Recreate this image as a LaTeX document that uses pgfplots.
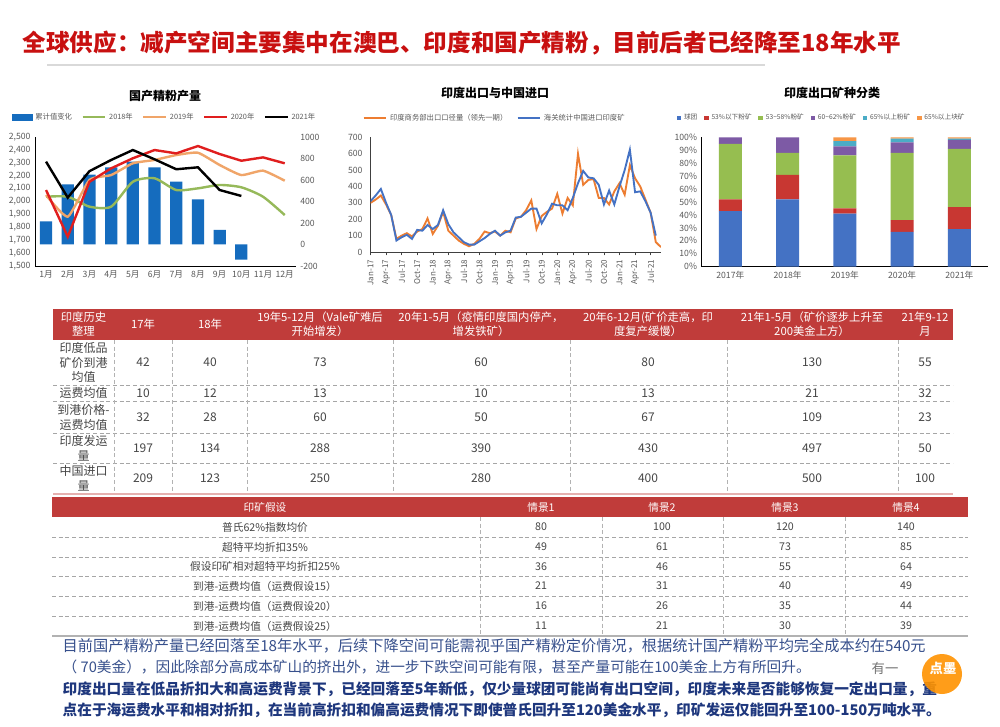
\documentclass[border=0pt]{standalone}
\usepackage{fontspec}
\setmainfont{Noto Sans CJK SC}
\usepackage{pgfplots}
\pgfplotsset{compat=1.18}
\definecolor{titlered}{RGB}{200,16,16}
\definecolor{tblred}{RGB}{192,60,58}
\definecolor{c1blue}{RGB}{21,108,190}
\definecolor{c1green}{RGB}{150,185,90}
\definecolor{c1orange}{RGB}{240,165,105}
\definecolor{c1red}{RGB}{224,30,30}
\definecolor{c2orange}{RGB}{237,125,49}
\definecolor{c2blue}{RGB}{68,114,196}
\definecolor{c3a}{RGB}{68,114,196}
\definecolor{c3b}{RGB}{200,55,50}
\definecolor{c3c}{RGB}{150,190,80}
\definecolor{c3d}{RGB}{125,90,165}
\definecolor{c3e}{RGB}{75,172,198}
\definecolor{c3f}{RGB}{247,150,70}
\definecolor{txtgray}{RGB}{89,89,89}
\definecolor{tbltxt}{RGB}{70,70,70}
\definecolor{noteblue}{RGB}{55,80,140}
\definecolor{noteblue2}{RGB}{30,55,125}
\pgfplotsset{
  common/.style={
    scale only axis, anchor=south west,
    /pgf/number format/assume math mode=true,
    tick label style={font=\fontsize{6.5}{7}\selectfont, text=txtgray},
    major tick length=0pt,
    legend style={draw=none, fill=none, font=\fontsize{5.5}{6}\selectfont, text=txtgray,
      /tikz/every even column/.append style={column sep=5pt}},
  }
}
\begin{document}
\begin{tikzpicture}
\useasboundingbox (0,0) rectangle (750pt,-545.25pt);
\fill[white] (0,0) rectangle (750pt,-545.25pt);

% ---------------- Chart 1: bars (right axis)
\begin{axis}[common, at={(26.4pt,-199.5pt)}, width=195.3pt, height=96.75pt,
  xmin=0.5, xmax=12.5, ymin=-200, ymax=1000,
  axis y line*=right, axis x line=none, y axis line style={draw=none},
  ytick={-200,0,200,400,600,800,1000},
  /pgf/number format/1000 sep={},
  ybar, bar width=9.2pt]
\addplot[fill=c1blue, draw=none] coordinates {(1,215)(2,560)(3,650)(4,718)(5,770)(6,718)(7,584)(8,420)(9,135)(10,-140)};
\end{axis}
% ---------------- Chart 1: lines (left axis)
\begin{axis}[common, at={(26.4pt,-199.5pt)}, width=195.3pt, height=96.75pt,
  xmin=0.5, xmax=12.5, ymin=1500, ymax=2500,
  axis x line*=bottom, axis y line*=left,
  axis line style={black, line width=0.6pt},
  ytick={1500,1600,...,2500},
  /pgf/number format/1000 sep={,},
  xtick={1,...,12}, xticklabels={1月,2月,3月,4月,5月,6月,7月,8月,9月,10月,11月,12月},
  legend columns=5,
  legend style={at={(0.4985,1.155)}, anchor=center}]
\addlegendimage{legend image code/.code={\fill[c1blue] (0pt,-2.2pt) rectangle (15pt,2.2pt);}}
\addlegendentry{累计值变化}
\addplot[c1green, line width=1.8pt, smooth, tension=0.4] coordinates {(1,2037)(2,2037)(3,1960)(4,1960)(5,2153)(6,2180)(7,2089)(8,2102)(9,2128)(10,2110)(11,2037)(12,1895)};
\addlegendentry{2018年}
\addplot[c1orange, line width=1.8pt, smooth, tension=0.3] coordinates {(1,2050)(2,1882)(3,2167)(4,2205)(5,2296)(6,2322)(7,2360)(8,2378)(9,2283)(10,2205)(11,2239)(12,2161)};
\addlegendentry{2019年}
\addplot[c1red, line width=1.8pt] coordinates {(1,2089)(2,1727)(3,2153)(4,2257)(5,2335)(6,2399)(7,2373)(8,2430)(9,2368)(10,2316)(11,2342)(12,2296)};
\addlegendentry{2020年}
\addplot[black, line width=1.8pt] coordinates {(1,2309)(2,2030)(3,2235)(4,2322)(5,2399)(6,2327)(7,2250)(8,2265)(9,2089)(10,2043)};
\addlegendentry{2021年}
\end{axis}

% ---------------- Chart 2
\begin{axis}[common, at={(277.875pt,-189pt)}, width=217.875pt, height=86pt,
  xmin=0, xmax=56, ymin=0, ymax=700,
  axis x line*=bottom, axis y line*=left,
  axis line style={black!75, line width=0.6pt},
  ytick={0,100,...,700},
  xtick={0,3,...,54},
  xticklabels={Jan-17,Apr-17,Jul-17,Oct-17,Jan-18,Apr-18,Jul-18,Oct-18,Jan-19,Apr-19,Jul-19,Oct-19,Jan-20,Apr-20,Jul-20,Oct-20,Jan-21,Apr-21,Jul-21},
  x tick label style={rotate=90, anchor=east, font=\fontsize{6}{6}\selectfont},
  major tick length=2.5pt, tick align=outside,
  xtick style={draw=black!75}, ytick style={draw=none},
  legend columns=2,
  legend style={at={(0.4286,1.168)}, anchor=center}]
\addplot[c2orange, line width=1.4pt] coordinates {(0,300)(1,320)(2,345)(3,290)(4,225)(5,80)(6,100)(7,115)(8,95)(9,125)(10,140)(11,205)(12,110)(13,160)(14,245)(15,130)(16,100)(17,70)(18,50)(19,35)(20,50)(21,80)(22,125)(23,115)(24,125)(25,100)(26,130)(27,120)(28,205)(29,215)(30,255)(31,315)(32,140)(33,220)(34,245)(35,265)(36,355)(37,235)(38,330)(39,285)(40,600)(41,410)(42,440)(43,445)(44,330)(45,330)(46,290)(47,370)(48,420)(49,350)(50,530)(51,450)(52,400)(53,320)(54,240)(55,60)(56,30)};
\addlegendentry{印度商务部出口口径量（领先一期）}
\addplot[c2blue, line width=1.4pt] coordinates {(0,310)(1,345)(2,385)(3,300)(4,225)(5,70)(6,90)(7,105)(8,80)(9,135)(10,130)(11,165)(12,140)(13,165)(14,255)(15,170)(16,120)(17,90)(18,60)(19,45)(20,45)(21,65)(22,85)(23,110)(24,130)(25,100)(26,120)(27,130)(28,210)(29,215)(30,240)(31,265)(32,265)(33,175)(34,230)(35,295)(36,285)(37,285)(38,255)(39,330)(40,420)(41,495)(42,455)(43,450)(44,410)(45,290)(46,375)(47,290)(48,400)(49,500)(50,625)(51,365)(52,370)(53,310)(54,240)(55,100)};
\addlegendentry{海关统计中国进口印度矿}
\end{axis}

% ---------------- Chart 3
\begin{axis}[common, at={(526.275pt,-200.025pt)}, width=214.7pt, height=97.05pt,
  ybar stacked, bar width=17.25pt,
  xmin=-0.5, xmax=4.5, ymin=0, ymax=100,
  axis x line*=bottom, axis y line*=left,
  axis line style={black, line width=0.6pt},
  ytick={0,10,...,100}, yticklabel={\pgfmathprintnumber{\tick}\%},
  xtick={0,...,4}, xticklabels={2017年,2018年,2019年,2020年,2021年},
  legend columns=6,
  legend style={at={(0.42,1.149)}, anchor=center, font=\fontsize{5}{6}\selectfont,
     /tikz/every even column/.append style={column sep=3pt}},
  legend image code/.code={\draw[#1, draw=none] (0pt,-1.8pt) rectangle (3.6pt,1.8pt);}]
\addplot[fill=c3a, draw=none] coordinates {(0,43)(1,52)(2,41)(3,27)(4,29)};
\addlegendentry{球团}
\addplot[fill=c3b, draw=none] coordinates {(0,9)(1,19)(2,4)(3,9)(4,17)};
\addlegendentry{53\%以下粉矿}
\addplot[fill=c3c, draw=none] coordinates {(0,43)(1,17)(2,41)(3,52)(4,45)};
\addlegendentry{53\textasciitilde58\%粉矿}
\addplot[fill=c3d, draw=none] coordinates {(0,5)(1,12)(2,7)(3,8)(4,7)};
\addlegendentry{60\textasciitilde62\%粉矿}
\addplot[fill=c3e, draw=none] coordinates {(0,0)(1,0)(2,4)(3,3)(4,1)};
\addlegendentry{65\%以上粉矿}
\addplot[fill=c3f, draw=none] coordinates {(0,0)(1,0)(2,3)(3,1)(4,1)};
\addlegendentry{65\%以上块矿}
\end{axis}

% ---------------- Text, tables (pixel coordinates)
\begin{scope}[x=0.75pt, y=-0.75pt]
\node[anchor=west, text=titlered, font=\fontsize{17.7}{20}\selectfont\bfseries] at (18,43)
  {全球供应：减产空间主要集中在澳巴、印度和国产精粉，目前后者已经降至18年水平};
\draw[black!15, line width=1.2pt] (47,65) -- (765,65);

\node[font=\fontsize{9}{10}\selectfont\bfseries] at (165,96) {国产精粉产量};
\node[font=\fontsize{9}{10}\selectfont\bfseries] at (495,93) {印度出口与中国进口};
\node[font=\fontsize{9}{10}\selectfont\bfseries] at (832,93) {印度出口矿种分类};

% Table 1
\fill[tblred] (53,309) rectangle (953,340);
\begin{scope}[every node/.style={text=white, align=center, font=\fontsize{8.5}{10.5}\selectfont}]
\node at (83.5,324.5) {印度历史\\整理};
\node at (143,324.5) {17年};
\node at (210,324.5) {18年};
\node at (320,324.5) {19年5-12月（Vale矿难后\\开始增发）};
\node at (481,324.5) {20年1-5月（疫情印度国内停产，\\增发铁矿）};
\node at (648,324.5) {20年6-12月(矿价走高，印\\度复产缓慢）};
\node at (812,324.5) {21年1-5月（矿价逐步上升至\\200美金上方）};
\node at (925,324.5) {21年9-12\\月};
\end{scope}
\foreach \yy in {385,401.7,433.3,463.3}
  \draw[black!35, densely dashed, line width=0.5pt] (53,\yy) -- (953,\yy);
\foreach \xx in {114,172,247,393,570,727,898}
  \draw[black!30, densely dashed, line width=0.5pt] (\xx,340) -- (\xx,493);
\draw[tblred!40, line width=1.5pt] (53,494) -- (953,494);
\begin{scope}[every node/.style={text=tbltxt, align=center, font=\fontsize{9}{11}\selectfont}]
\node at (83.5,362.5) {印度低品\\矿价到港\\均值};
\node at (83.5,393.4) {运费均值};
\node at (83.5,417.5) {到港价格-\\运费均值};
\node at (83.5,448.3) {印度发运\\量};
\node at (83.5,478.3) {中国进口\\量};
\foreach \yy/\a/\b/\c/\d/\e/\f/\g in {362.5/42/40/73/60/80/130/55, 393.4/10/12/13/10/13/21/32, 417.5/32/28/60/50/67/109/23, 448.3/197/134/288/390/430/497/50, 478.3/209/123/250/280/400/500/100}{
  \node at (143,\yy) {\a};
  \node at (210,\yy) {\b};
  \node at (320,\yy) {\c};
  \node at (481,\yy) {\d};
  \node at (648,\yy) {\e};
  \node at (812,\yy) {\f};
  \node at (925,\yy) {\g};
}
\end{scope}

% Table 2
\fill[tblred] (52,497) rectangle (968,517);
\begin{scope}[every node/.style={text=white, font=\fontsize{8}{9}\selectfont}]
\node at (265,507) {印矿假设};
\node at (541,507) {情景1};
\node at (662,507) {情景2};
\node at (785,507) {情景3};
\node at (906,507) {情景4};
\end{scope}
\foreach \yy in {537,557,576,596,616}
  \draw[black!35, densely dashed, line width=0.5pt] (52,\yy) -- (968,\yy);
\foreach \xx in {480,602,723,845}
  \draw[black!30, densely dashed, line width=0.5pt] (\xx,517) -- (\xx,636);
\draw[black!30, line width=0.8pt] (52,636) -- (968,636);
\begin{scope}[every node/.style={text=tbltxt, font=\fontsize{8}{9}\selectfont}]
\foreach \yy/\lab/\a/\b/\c/\d in {527/普氏62\%指数均价/80/100/120/140, 547/超特平均折扣35\%/49/61/73/85, 566.5/假设印矿相对超特平均折扣25\%/36/46/55/64, 586/到港-运费均值（运费假设15）/21/31/40/49, 606/到港-运费均值（运费假设20）/16/26/35/44, 626/到港-运费均值（运费假设25）/11/21/30/39}{
  \node at (265,\yy) {\lab};
  \node at (541,\yy) {\a};
  \node at (662,\yy) {\b};
  \node at (785,\yy) {\c};
  \node at (906,\yy) {\d};
}
\end{scope}

% Notes
\node[anchor=west, text=noteblue, font=\fontsize{11.4}{12}\selectfont] at (58,646)
  {目前国产精粉产量已经回落至18年水平，后续下降空间可能需视乎国产精粉定价情况，根据统计国产精粉平均完全成本约在540元};
\node[anchor=west, text=noteblue, font=\fontsize{11}{12}\selectfont] at (58,667)
  {（ 70美金），因此除部分高成本矿山的挤出外，进一步下跌空间可能有限，甚至产量可能在100美金上方有所回升。};
\node[anchor=west, text=noteblue2, font=\fontsize{11}{12}\selectfont\bfseries] at (58,689)
  {印度出口量在低品折扣大和高运费背景下，已经回落至5年新低，仅少量球团可能尚有出口空间，印度未来是否能够恢复一定出口量，重};
\node[anchor=west, text=noteblue2, font=\fontsize{11}{12}\selectfont\bfseries] at (58,710)
  {点在于海运费水平和相对折扣，在当前高折扣和偏高运费情况下即使普氏回升至120美金水平，印矿发运仅能回升至100-150万吨水平。};

% watermark
\fill[orange!85!yellow, opacity=0.9] (942,674) circle (20);
\node[text=black!55, font=\fontsize{10}{11}\selectfont] at (885,668) {有一};
\node[text=white, font=\fontsize{10}{11}\selectfont\bfseries] at (943,668) {点墨};
\end{scope}
\end{tikzpicture}
\end{document}
